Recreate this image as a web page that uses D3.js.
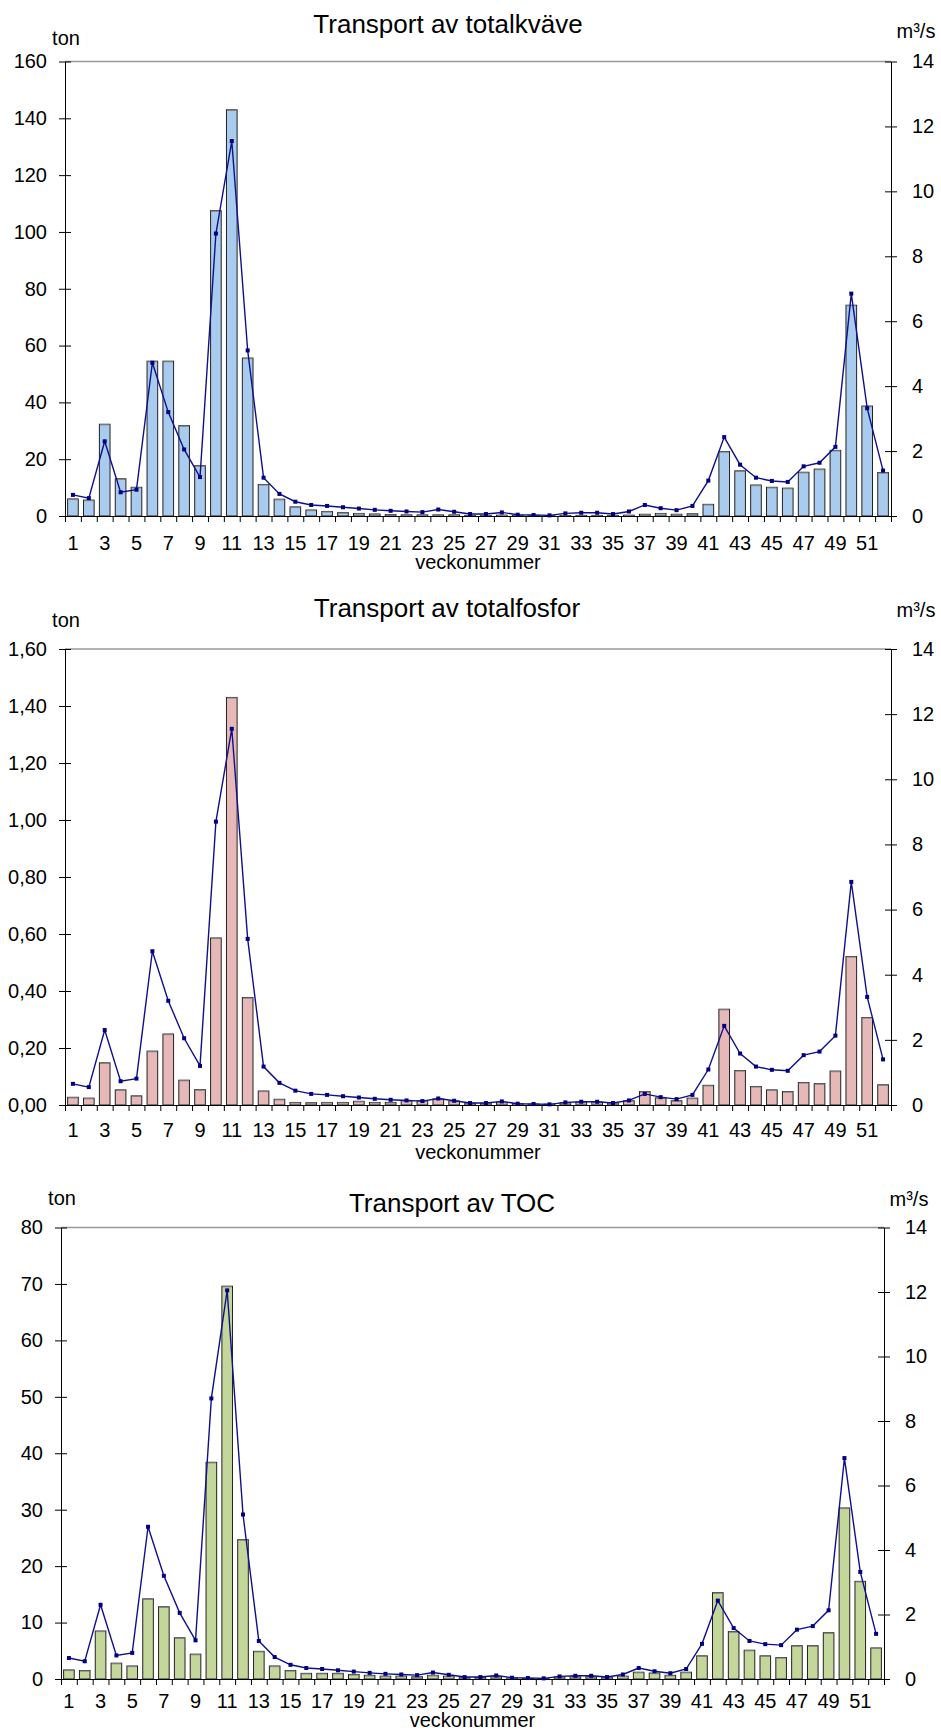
<!DOCTYPE html>
<html>
<head>
<meta charset="utf-8">
<script src="https://cdn.jsdelivr.net/npm/d3@7"></script>
<style>
  body { margin: 0; background: #fff; }
  svg { display: block; font-family: "Liberation Sans", Arial, sans-serif; }
</style>
</head>
<body>
<svg id="chart" width="941" height="1731"></svg>
<script>
// veckonummer 1..52
const weeks = d3.range(1, 53);
const weekLabels = weeks.filter(w => w % 2 === 1);

// vattenföring (m3/s) i kväve- och fosfordiagrammen
const flow = [0.65, 0.55, 2.3, 0.73, 0.81, 4.72, 3.2, 2.05, 1.2, 8.7,
  11.55, 5.1, 1.18, 0.68, 0.44, 0.34, 0.31, 0.27, 0.23, 0.19,
  0.16, 0.14, 0.12, 0.2, 0.13, 0.06, 0.06, 0.11, 0.04, 0.03,
  0.02, 0.08, 0.1, 0.1, 0.06, 0.14, 0.34, 0.24, 0.18, 0.31,
  1.09, 2.43, 1.58, 1.18, 1.08, 1.05, 1.53, 1.64, 2.13, 6.85,
  3.32, 1.4];

// vattenföring i TOC-diagrammet (toppen v. 11 ligger lite högre där)
const flowToc = [0.65, 0.55, 2.3, 0.73, 0.81, 4.72, 3.2, 2.05, 1.2, 8.7,
  12.05, 5.1, 1.18, 0.68, 0.44, 0.34, 0.31, 0.27, 0.23, 0.19,
  0.16, 0.14, 0.12, 0.2, 0.13, 0.06, 0.06, 0.11, 0.04, 0.03,
  0.02, 0.08, 0.1, 0.1, 0.06, 0.14, 0.34, 0.24, 0.18, 0.31,
  1.09, 2.43, 1.58, 1.18, 1.08, 1.05, 1.53, 1.64, 2.13, 6.85,
  3.32, 1.4];

// transport, ton per vecka
const totN = [6.0, 5.6, 32.3, 13.1, 10.1, 54.5, 54.5, 31.8, 17.7, 107.5,
  143, 55.6, 11.1, 5.9, 3.2, 2.1, 1.6, 1.2, 0.9, 0.7,
  0.5, 0.4, 0.4, 0.4, 0.4, 0.2, 0.2, 0.3, 0.2, 0.1,
  0.1, 0.2, 0.2, 0.2, 0.2, 0.3, 0.6, 0.9, 0.6, 0.8,
  4.1, 22.7, 15.9, 10.9, 10.1, 9.8, 15.4, 16.5, 23.1, 74.2,
  38.7, 15.3];

const totP = [0.027, 0.024, 0.148, 0.053, 0.032, 0.189, 0.249, 0.087, 0.054, 0.586,
  1.43, 0.377, 0.049, 0.02, 0.009, 0.008, 0.009, 0.009, 0.013, 0.009,
  0.009, 0.016, 0.015, 0.021, 0.014, 0.006, 0.006, 0.01, 0.005, 0.003,
  0.003, 0.008, 0.01, 0.01, 0.007, 0.015, 0.047, 0.025, 0.015, 0.024,
  0.069, 0.336, 0.121, 0.065, 0.053, 0.047, 0.079, 0.075, 0.119, 0.521,
  0.307, 0.071];

const toc = [1.6, 1.5, 8.5, 2.8, 2.3, 14.2, 12.8, 7.3, 4.4, 38.4,
  69.6, 24.7, 4.9, 2.3, 1.5, 1.0, 1.0, 1.0, 0.8, 0.65,
  0.5, 0.5, 0.4, 0.65, 0.5, 0.25, 0.25, 0.4, 0.2, 0.1,
  0.1, 0.35, 0.4, 0.4, 0.3, 0.5, 1.2, 1.05, 0.65, 1.2,
  4.1, 15.3, 8.4, 5.1, 4.1, 3.8, 5.9, 5.9, 8.2, 30.3,
  17.3, 5.5];

// axlarnas skalsteg
const nTicks = [0, 20, 40, 60, 80, 100, 120, 140, 160];
const pTicks = [0, 0.2, 0.4, 0.6, 0.8, 1.0, 1.2, 1.4, 1.6];
const tocTicks = [0, 10, 20, 30, 40, 50, 60, 70, 80];
const flowTicks = [0, 2, 4, 6, 8, 10, 12, 14];

const svg = d3.select('#chart');
svg.append('rect').attr('width', 941).attr('height', 1731).attr('fill', '#fff');

const charts = [
  { title: 'Transport av totalkväve', values: totN, flow: flow, ticks: nTicks, fmt: d3.format('d'), fill: '#a9cbee',
    left: 65, right: 891, top: 61.5, bottom: 516, titleX: 448, titleY: 33, tonY: 45, m3Y: 38, xLab: 34, xTitle: 53 },
  { title: 'Transport av totalfosfor', values: totP, flow: flow, ticks: pTicks, fmt: d => d.toFixed(2).replace('.', ','), fill: '#e6b8b7',
    left: 65, right: 891, top: 649, bottom: 1105, titleX: 447, titleY: 617, tonY: 627, m3Y: 617, xLab: 32, xTitle: 54 },
  { title: 'Transport av TOC', values: toc, flow: flowToc, ticks: tocTicks, fmt: d3.format('d'), fill: '#c4d79b',
    left: 61, right: 884, top: 1227.5, bottom: 1679, titleX: 452, titleY: 1212, tonY: 1205, m3Y: 1206, xLab: 29, xTitle: 48 }
];

charts.forEach(c => drawChart(c));

function drawChart(c) {
  const g = svg.append('g');

  const x = d3.scaleBand()
    .domain(weeks)
    .range([c.left, c.right])
    .paddingInner(0.33)
    .paddingOuter(0.165);

  // linjär skala för tickarna mellan staplarna
  const xEdge = d3.scaleLinear().domain([0, 52]).range([c.left, c.right]);

  const y = d3.scaleLinear()
    .domain([0, d3.max(c.ticks)])
    .range([c.bottom, c.top]);

  const y2 = d3.scaleLinear()
    .domain([0, 14])
    .range([c.bottom, c.top]);

  // grå linje överst
  g.append('line')
    .attr('x1', c.left).attr('x2', c.right)
    .attr('y1', y(d3.max(c.ticks))).attr('y2', y(d3.max(c.ticks)))
    .attr('stroke', '#999').attr('stroke-width', 1.5);

  // staplar
  g.append('g').selectAll('rect')
    .data(c.values)
    .join('rect')
    .attr('x', (d, i) => x(weeks[i]))
    .attr('y', d => y(d))
    .attr('width', x.bandwidth())
    .attr('height', d => c.bottom - y(d))
    .attr('fill', c.fill)
    .attr('stroke', '#222')
    .attr('stroke-width', 1);

  g.append('g').selectAll('line')
    .data(c.values)
    .join('line')
    .attr('x1', (d, i) => x(weeks[i]) + 0.5)
    .attr('x2', (d, i) => x(weeks[i]) + x.bandwidth() - 0.5)
    .attr('y1', d => y(d) + 0.5)
    .attr('y2', d => y(d) + 0.5)
    .attr('stroke', '#808080')
    .attr('stroke-width', 1.2);

  // vänster axel
  const axL = g.append('g')
    .attr('transform', `translate(${c.left},0)`)
    .call(d3.axisLeft(y).tickValues(c.ticks).tickFormat(c.fmt).tickSizeOuter(0).tickSizeInner(6).tickPadding(12));
  axL.selectAll('.tick line').attr('x2', 6).attr('x1', -6);

  // höger axel
  const axR = g.append('g')
    .attr('transform', `translate(${c.right},0)`)
    .call(d3.axisRight(y2).tickValues(flowTicks).tickFormat(d3.format('d')).tickSizeOuter(0).tickSizeInner(6).tickPadding(15));
  axR.selectAll('.tick line').attr('x1', -6).attr('x2', 6);

  // x-axel: tickar mellan veckorna
  g.append('g')
    .attr('transform', `translate(0,${c.bottom})`)
    .call(d3.axisBottom(xEdge).tickValues(d3.range(0, 53)).tickFormat('').tickSizeOuter(0).tickSize(6));

  // x-axel: veckoetiketter
  const axX = g.append('g')
    .attr('transform', `translate(0,${c.bottom})`)
    .call(d3.axisBottom(x).tickValues(weekLabels).tickSize(0).tickPadding(0));
  axX.select('.domain').remove();
  axX.selectAll('.tick text').attr('dy', null).attr('y', c.xLab);

  [axL, axR].forEach(a => {
    a.selectAll('.domain').attr('stroke', '#000');
    a.selectAll('.tick line').attr('stroke', '#000');
  });

  g.selectAll('.tick text')
    .attr('font-size', 20)
    .attr('font-family', '"Liberation Sans", Arial, sans-serif')
    .attr('fill', '#000');

  // vattenföring
  const line = d3.line()
    .x((d, i) => x(weeks[i]) + x.bandwidth() / 2)
    .y(d => y2(d));

  g.append('path')
    .datum(c.flow)
    .attr('d', line)
    .attr('fill', 'none')
    .attr('stroke', '#10108c')
    .attr('stroke-width', 1.4);

  g.append('g').selectAll('rect')
    .data(c.flow)
    .join('rect')
    .attr('x', (d, i) => x(weeks[i]) + x.bandwidth() / 2 - 2)
    .attr('y', d => y2(d) - 2)
    .attr('width', 4)
    .attr('height', 4)
    .attr('fill', '#000080');

  // texter
  g.append('text')
    .attr('x', c.titleX).attr('y', c.titleY)
    .attr('text-anchor', 'middle')
    .attr('font-size', 26)
    .text(c.title);

  g.append('text')
    .attr('x', c.left + 1).attr('y', c.tonY)
    .attr('text-anchor', 'middle')
    .attr('font-size', 20)
    .text('ton');

  g.append('text')
    .attr('x', c.right + 25).attr('y', c.m3Y)
    .attr('text-anchor', 'middle')
    .attr('font-size', 20)
    .text('m³/s');

  g.append('text')
    .attr('x', (c.left + c.right) / 2).attr('y', c.bottom + c.xTitle)
    .attr('text-anchor', 'middle')
    .attr('font-size', 20)
    .text('veckonummer');
}
</script>
</body>
</html>
